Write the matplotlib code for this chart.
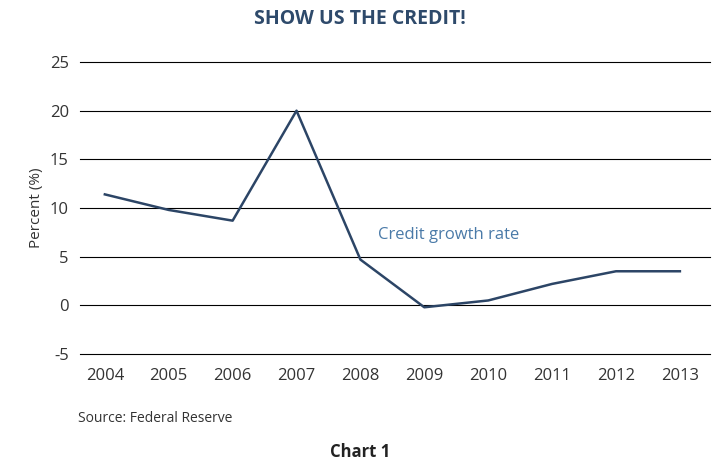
import matplotlib.pyplot as plt

plt.rcParams["axes.unicode_minus"] = False
plt.rcParams["font.family"] = "Open Sans"

years = [2004, 2005, 2006, 2007, 2008, 2009, 2010, 2011, 2012, 2013]
growth = [11.4, 9.8, 8.7, 20.0, 4.7, -0.2, 0.5, 2.2, 3.5, 3.5]
yticks = [-5, 0, 5, 10, 15, 20, 25]

fig = plt.figure(figsize=(7.2, 4.68), dpi=100)
ax = fig.add_axes([0.111, 0.2436, 0.875, 0.6239])

for v in yticks:
    ax.axhline(v, color="black", lw=0.8, zorder=1, clip_on=False)
ax.plot(years, growth, color="#2c4566", lw=1.8, zorder=2)

ax.set_xlim(2003.61, 2013.47)
ax.set_ylim(-5, 25)
ax.set_yticks(yticks)
ax.set_xticks(years)
for s in ax.spines.values():
    s.set_visible(False)
ax.tick_params(length=0, labelsize=12, colors="#333333")
ax.tick_params(axis="x", pad=10)
ax.tick_params(axis="y", pad=8)
ax.set_ylabel("Percent (%)", fontsize=11, color="#333333")

ax.text(2008.27, 6.8, "Credit growth rate", color="#4a7aa8", fontsize=12)
fig.text(0.5, 0.96, "SHOW US THE CREDIT!", ha="center", va="center",
         fontsize=14, fontweight="bold", color="#2e4a6b")
fig.text(0.108, 0.105, "Source: Federal Reserve", fontsize=10, color="#333333", va="center")
fig.text(0.5, 0.035, "Chart 1", ha="center", va="center", fontsize=12, fontweight="bold", color="#222222")

fig.savefig("out.png", dpi=100)
